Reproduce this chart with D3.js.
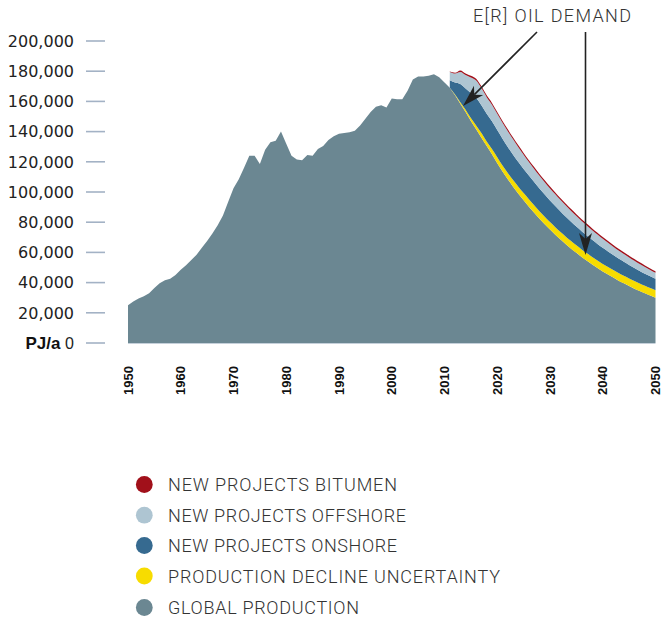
<!DOCTYPE html>
<html><head><meta charset="utf-8">
<script src="https://cdn.jsdelivr.net/npm/d3@7"></script>
<style>body{margin:0;background:#fff} svg{display:block}</style>
</head><body>
<svg id="chart" width="665" height="619"></svg>
<script>
// ---- DATA (PJ/a) ----
const historyStartYear = 1950;
const globalHistory = [
  25000,27500,29500,31000,33000,36500,39500,41500,42500,45000,
  48500,51500,55000,58500,63000,67500,72500,78000,84500,93500,
  102500,108500,116000,124000,124000,118500,128000,133000,134000,140000,
  132000,124000,121500,121000,124500,124000,128500,130500,134500,137000,
  138500,139000,139500,140500,144000,148500,153000,156500,157500,156000,
  162000,161500,161500,167000,174500,176500,176500,177000,178000,176000,
  172500];
const projectionStartYear = 2011;
const globalProjection = [
  169000,164000,158500,153000,147000,141500,136000,130500,125000,119000,
  113500,108400,103500,98900,94500,90200,86200,82300,78600,75100,
  71700,68500,65400,62500,59700,57000,54400,52000,49700,47400,
  45300,43300,41300,39500,37700,36000,34400,32900,31400,30000];
const declineUncertainty = [
  0,500,1000,1500,2000,2500,3000,3000,3500,4000,
  4000,4200,4400,4600,4800,5000,5000,5000,5000,5000,
  5000,5000,5000,5000,5000,5000,5000,5000,5000,5000,
  5000,5000,5000,5000,5000,5000,5000,5000,5000,5000];
const newOnshore = [
  5000,8000,12000,14000,16500,18500,18500,18300,18300,18000,
  17800,17200,16800,16400,16000,15700,15400,15000,14700,14300,
  14000,13600,13200,12800,12400,12000,11600,11300,10900,10600,
  10300,10000,9600,9300,9000,8700,8300,8000,7800,7500];
const newOffshore = [
  5500,6000,8000,9000,10300,11300,11300,11000,11000,10800,
  10600,10500,10200,9800,9400,9000,8700,8500,8200,8000,
  7800,7600,7400,7200,7000,6800,6700,6400,6200,6000,
  5800,5500,5400,5200,5000,4800,4600,4400,4200,4000];
const newBitumen = [
  300,500,1000,1000,1200,1200,1200,1200,1200,1200,
  1200,1200,1200,1200,1200,1200,1200,1200,1200,1200,
  1200,1200,1200,1200,1200,1200,1200,1200,1200,1200,
  1100,1100,1100,1100,1100,1100,1100,1100,1000,1000];
const yTicks = [0,20000,40000,60000,80000,100000,120000,140000,160000,180000,200000];
const xTicks = [1950,1960,1970,1980,1990,2000,2010,2020,2030,2040,2050];
const legendLabels = ["NEW PROJECTS BITUMEN","NEW PROJECTS OFFSHORE","NEW PROJECTS ONSHORE","PRODUCTION DECLINE UNCERTAINTY","GLOBAL PRODUCTION"];
const legendKeys = ["bitumen","offshore","onshore","decline","global"];
const annotationText = "E[R] OIL DEMAND";

// ---- STYLE ----
const colors = {global:"#6b8792", decline:"#f7dc00", onshore:"#366a90", offshore:"#aec5d2", bitumen:"#a1101a"};

const svg = d3.select("#chart");
const x = d3.scaleLinear().domain([1950, 2050]).range([128, 655.5]);
const y = d3.scaleLinear().domain([0, 200000]).range([343, 41]);

const globalAll = globalHistory.map((v,i)=>({year: historyStartYear+i, value:v}))
  .concat(globalProjection.map((v,i)=>({year: projectionStartYear+i, value:v})));

const proj = globalProjection.map((v,i)=>({
  year: projectionStartYear+i, global:v, decline:declineUncertainty[i],
  onshore:newOnshore[i], offshore:newOffshore[i], bitumen:newBitumen[i]}));
const stack = d3.stack().keys(["global","decline","onshore","offshore","bitumen"]);
const series = stack(proj);

svg.append("path").datum(globalAll)
  .attr("fill", colors.global)
  .attr("d", d3.area().x(d=>x(d.year)).y0(y(0)).y1(d=>y(d.value)));

const area = d3.area().x(d=>x(d.data.year)).y0(d=>y(d[0])).y1(d=>y(d[1])).curve(d3.curveMonotoneX);
series.slice(1).forEach(s=>{
  svg.append("path").datum(s).attr("fill", colors[s.key]).attr("d", area);
});

svg.append("line").attr("x1", x(1950)).attr("x2", x(2050)).attr("y1", y(0)+0.5).attr("y2", y(0)+0.5)
  .attr("stroke","#c5d0da").attr("stroke-width",1);

const yAxis = svg.append("g");
yTicks.forEach(t=>{
  yAxis.append("line").attr("x1",86).attr("x2",105).attr("y1",y(t)).attr("y2",y(t))
    .attr("stroke","#a3b2c5").attr("stroke-width",1.6);
  const tx = yAxis.append("text").attr("x",74).attr("y",y(t)).attr("dy","0.36em")
    .attr("text-anchor","end").attr("font-family","DejaVu Sans").attr("font-size",16).attr("fill","#222");
  if (t===0){
    tx.append("tspan").attr("font-family","Liberation Sans").attr("font-weight","bold").attr("font-size",17).attr("fill","#111").text("PJ/a ");
    tx.append("tspan").attr("font-family","Liberation Sans").attr("font-size",16).text("0");
  } else {
    tx.text(d3.format(",")(t));
  }
});

xTicks.forEach(t=>{
  svg.append("text").attr("transform",`translate(${x(t)},366) rotate(-90)`)
    .attr("text-anchor","end").attr("dy","0.36em")
    .attr("font-family","Liberation Sans").attr("font-weight","bold").attr("font-size",13).attr("fill","#111")
    .text(t);
});

svg.append("text").attr("x",473).attr("y",22).attr("font-family","Roboto").attr("font-weight",300).attr("font-size",18)
  .attr("fill","#333").attr("textLength",158).attr("lengthAdjust","spacing").text(annotationText);

function arrow(x1,y1,x2,y2){
  const ang = Math.atan2(y2-y1, x2-x1);
  const L=22, W=6.5, N=16;
  const bx = x2 - N*Math.cos(ang), by = y2 - N*Math.sin(ang);
  svg.append("line").attr("x1",x1).attr("y1",y1).attr("x2",bx).attr("y2",by)
    .attr("stroke","#222").attr("stroke-width",1.6);
  const pts = [[0,0],[-L,-W],[-N,0],[-L,W]].map(([px,py])=>[
    x2 + px*Math.cos(ang) - py*Math.sin(ang), y2 + px*Math.sin(ang) + py*Math.cos(ang)]);
  svg.append("path").attr("d","M"+pts.map(p=>p.join(",")).join("L")+"Z").attr("fill","#222");
}
arrow(537,32,463,106);
arrow(585.5,32,585.5,255);

const legendBase = [491, 521.7, 552, 582.5, 614];
const legendWidths = [229, 238, 229, 332, 191];
legendKeys.forEach((k,i)=>{
  svg.append("circle").attr("cx",144.3).attr("cy",legendBase[i]-6.5).attr("r",8.4).attr("fill",colors[k]);
  svg.append("text").attr("x",168).attr("y",legendBase[i]).attr("font-family","Roboto").attr("font-weight",300).attr("font-size",18)
    .attr("fill","#333").attr("textLength",legendWidths[i]).attr("lengthAdjust","spacing").text(legendLabels[i]);
});
</script>
</body></html>
